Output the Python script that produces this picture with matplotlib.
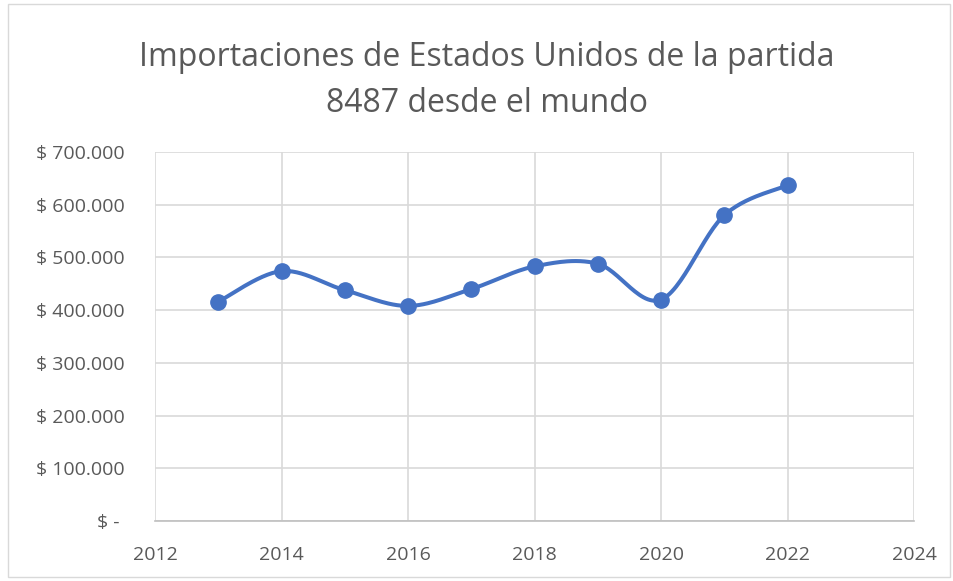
import numpy as np
import matplotlib.pyplot as plt
from matplotlib.patches import Rectangle
from matplotlib.ticker import FuncFormatter

# datos
anios = [2013, 2014, 2015, 2016, 2017, 2018, 2019, 2020, 2021, 2022]
importaciones = [416000, 474000, 438000, 408000, 440000, 483000, 488000, 420000, 580000, 637000]

titulo_1 = "Importaciones de Estados Unidos de la partida"
titulo_2 = "8487 desde el mundo"
azul = "#4472C4"
gris_texto = "#595959"


def catmull_rom(x, y, n=30):
    # curva suavizada tipo Excel entre los puntos
    x = np.asarray(x, float)
    y = np.asarray(y, float)
    px = np.concatenate([[x[0]], x, [x[-1]]])
    py = np.concatenate([[y[0]], y, [y[-1]]])
    xs, ys = [], []
    t = np.linspace(0, 1, n)
    for i in range(1, len(px) - 2):
        p0x, p1x, p2x, p3x = px[i - 1:i + 3]
        p0y, p1y, p2y, p3y = py[i - 1:i + 3]
        c1x = p1x + (p2x - p0x) / 6
        c1y = p1y + (p2y - p0y) / 6
        c2x = p2x - (p3x - p1x) / 6
        c2y = p2y - (p3y - p1y) / 6
        bx = (1 - t) ** 3 * p1x + 3 * (1 - t) ** 2 * t * c1x + 3 * (1 - t) * t ** 2 * c2x + t ** 3 * p2x
        by = (1 - t) ** 3 * p1y + 3 * (1 - t) ** 2 * t * c1y + 3 * (1 - t) * t ** 2 * c2y + t ** 3 * p2y
        xs.append(bx)
        ys.append(by)
    return np.concatenate(xs), np.concatenate(ys)


def formato_dolar(v, pos):
    if v == 0:
        return "$ - "
    return "$ " + f"{v:,.0f}".replace(",", ".")


plt.rcParams["font.family"] = ["Open Sans", "DejaVu Sans"]

fig = plt.figure(figsize=(9.54, 5.81), dpi=100)
fig.patches.append(Rectangle((8 / 954, 4 / 581), 942 / 954, 573 / 581, transform=fig.transFigure,
                             fill=False, edgecolor="#d9d9d9", linewidth=1))
ax = fig.add_axes([155 / 954, 1 - 521 / 581, (914 - 155) / 954, (521 - 152) / 581])

sx, sy = catmull_rom(anios, importaciones)
ax.plot(sx, sy, color=azul, linewidth=2.9, solid_capstyle="round", zorder=3)
ax.plot(anios, importaciones, "o", color=azul, markersize=11, zorder=4)

ax.set_xlim(2012, 2024)
ax.set_ylim(0, 700000)
ax.set_xticks(range(2012, 2025, 2))
ax.set_yticks(range(0, 700001, 100000))
ax.yaxis.set_major_formatter(FuncFormatter(formato_dolar))

ax.grid(True, color="#d9d9d9", linewidth=1.2)
ax.set_axisbelow(True)
for lado in ["top", "right", "left"]:
    ax.spines[lado].set_visible(False)
ax.spines["bottom"].set_color("#bfbfbf")
ax.spines["bottom"].set_linewidth(1.2)
ax.tick_params(length=0, labelsize=14, labelcolor=gris_texto)
ax.tick_params(axis="x", pad=18)
ax.tick_params(axis="y", pad=22)

fig.text(487 / 954, 1 - 66 / 581, titulo_1, ha="center", va="baseline", fontsize=23, color=gris_texto)
fig.text(487 / 954, 1 - 112 / 581, titulo_2, ha="center", va="baseline", fontsize=23, color=gris_texto)

plt.savefig("out.png", dpi=100)
